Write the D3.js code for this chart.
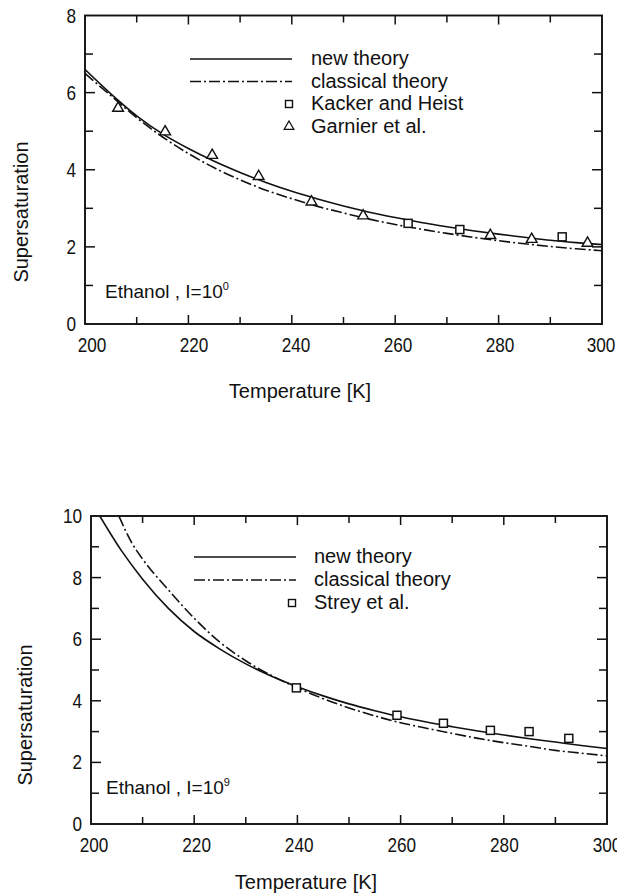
<!DOCTYPE html>
<html><head><meta charset="utf-8">
<script src="https://cdn.jsdelivr.net/npm/d3@7"></script>
<style>
html,body{margin:0;padding:0;background:#fff;}
svg text{font-family:"Liberation Sans Narrow","Liberation Sans",sans-serif;fill:#111;}
</style></head><body>
<svg id="chart" width="617" height="893"></svg>
<script>
// ---- Panel 1 data: Ethanol, I = 10^0 ----
const p1NewT = [200,205,210,215,220,225,230,235,240,245,250,255,260,265,270,275,280,285,290,295,300];
const p1NewS = [6.6,5.97,5.4,4.93,4.55,4.22,3.93,3.67,3.44,3.24,3.06,2.9,2.76,2.63,2.52,2.42,2.33,2.25,2.17,2.11,2.06];
const p1ClsT = [200,205,210,215,220,225,230,235,240,245,250,255,260,265,270,275,280,285,290,295,300];
const p1ClsS = [6.5,5.92,5.35,4.85,4.42,4.05,3.74,3.47,3.25,3.05,2.88,2.72,2.58,2.46,2.35,2.25,2.16,2.08,2.01,1.95,1.90];
const p1KackerT = [262.5,272.5,292.3];
const p1KackerS = [2.61,2.45,2.26];
const p1GarnierT = [206.4,215.5,224.6,233.6,243.8,253.8,278.4,286.4,297.2];
const p1GarnierS = [5.57,4.96,4.35,3.80,3.14,2.78,2.27,2.17,2.07];
const p1YTicks = [0,2,4,6,8];

// ---- Panel 2 data: Ethanol, I = 10^9 ----
const p2NewT = [201.7,206,210,215,220,225,230,235,240,245,250,255,260,265,270,275,280,285,290,295,300];
const p2NewS = [10,8.85,7.95,7.0,6.25,5.68,5.2,4.8,4.46,4.16,3.9,3.68,3.48,3.31,3.16,3.02,2.89,2.77,2.66,2.55,2.45];
const p2ClsT = [205.4,208,210,215,220,225,230,235,240,245,250,255,260,265,270,275,280,285,290,295,300];
const p2ClsS = [10,9.1,8.6,7.6,6.68,5.9,5.3,4.82,4.42,4.07,3.77,3.51,3.29,3.11,2.94,2.78,2.64,2.52,2.39,2.3,2.21];
const p2StreyT = [239.8,259.3,268.3,277.4,284.9,292.6];
const p2StreyS = [4.42,3.53,3.27,3.04,3.00,2.78];
const p2YTicks = [0,2,4,6,8,10];

const xTicks = [200,220,240,260,280,300];

const svg = d3.select("#chart");

function panel(cfg){
  const x = d3.scaleLinear().domain([200,300]).range([cfg.x0,cfg.x1]);
  const y = d3.scaleLinear().domain([0,cfg.ymax]).range([cfg.y0,cfg.y1]);
  const g = svg.append("g");
  const clipId = "clip"+cfg.id;
  svg.append("clipPath").attr("id",clipId).append("rect")
    .attr("x",cfg.x0).attr("y",cfg.y1).attr("width",cfg.x1-cfg.x0).attr("height",cfg.y0-cfg.y1);

  // frame
  g.append("rect").attr("x",cfg.x0).attr("y",cfg.y1).attr("width",cfg.x1-cfg.x0).attr("height",cfg.y0-cfg.y1)
    .attr("fill","none").attr("stroke","#111").attr("stroke-width",1.9);

  // ticks, inward, on all sides
  const tk = g.append("g").attr("stroke","#111").attr("stroke-width",1.5);
  d3.range(210,300,10).forEach(t=>{
    const L = (t%20===0)?9:7;
    tk.append("line").attr("x1",x(t)).attr("x2",x(t)).attr("y1",cfg.y0).attr("y2",cfg.y0-L);
    tk.append("line").attr("x1",x(t)).attr("x2",x(t)).attr("y1",cfg.y1).attr("y2",cfg.y1+L);
  });
  d3.range(1,cfg.ymax,1).forEach(v=>{
    const L = (v%2===0)?10:8;
    tk.append("line").attr("x1",cfg.x0).attr("x2",cfg.x0+L).attr("y1",y(v)).attr("y2",y(v));
    tk.append("line").attr("x1",cfg.x1).attr("x2",cfg.x1-L).attr("y1",y(v)).attr("y2",y(v));
  });

  // tick labels (condensed digits as in the plotter font)
  g.selectAll(".yl").data(cfg.yTicks).enter().append("text")
    .attr("transform",d=>`translate(${cfg.x0-9},${y(d)+7}) scale(0.86,1)`).attr("text-anchor","end")
    .attr("font-size",20).text(d=>d);
  g.selectAll(".xl").data(xTicks).enter().append("text")
    .attr("transform",d=>`translate(${x(d)+cfg.xlabDx*(300-d)/100 - cfg.lastShift*(d===300?1:0)},${cfg.y0+28}) scale(0.86,1)`)
    .attr("text-anchor","middle")
    .attr("font-size",20).text(d=>d);

  // axis titles
  g.append("text").attr("x",cfg.xTitleX).attr("y",cfg.xTitleY).attr("text-anchor","middle")
    .attr("font-size",20).text("Temperature [K]");
  g.append("text").attr("transform",`translate(${cfg.yTitleX},${cfg.yTitleY}) rotate(-90)`)
    .attr("text-anchor","middle").attr("font-size",20).text("Supersaturation");

  // curves
  const line = d3.line().x(d=>x(d[0])).y(d=>y(d[1])).curve(d3.curveMonotoneX);
  const cg = g.append("g").attr("clip-path",`url(#${clipId})`);
  cg.append("path").datum(d3.zip(cfg.newT,cfg.newS)).attr("d",line)
    .attr("fill","none").attr("stroke","#111").attr("stroke-width",1.6);
  cg.append("path").datum(d3.zip(cfg.clsT,cfg.clsS)).attr("d",line)
    .attr("fill","none").attr("stroke","#111").attr("stroke-width",1.6).attr("stroke-dasharray","11,3,2,3");

  // markers
  cfg.squares.forEach(s=>{
    g.selectAll(null).data(d3.zip(s.T,s.S)).enter().append("rect")
      .attr("x",d=>x(d[0])-4).attr("y",d=>y(d[1])-4).attr("width",8).attr("height",8)
      .attr("fill","#fff").attr("stroke","#111").attr("stroke-width",1.5);
  });
  cfg.triangles.forEach(s=>{
    const sym = d3.symbol().type(d3.symbolTriangle).size(50);
    g.selectAll(null).data(d3.zip(s.T,s.S)).enter().append("path")
      .attr("d",sym).attr("transform",d=>`translate(${x(d[0])},${y(d[1])-1})`)
      .attr("fill","#fff").attr("stroke","#111").attr("stroke-width",1.4);
  });

  // legend
  const lg = g.append("g");
  cfg.legend.forEach((e,i)=>{
    const ly = cfg.legY + i*cfg.legDy;
    if(e.type==="solid"||e.type==="dash"){
      lg.append("line").attr("x1",cfg.legX0).attr("x2",cfg.legX1).attr("y1",ly).attr("y2",ly)
        .attr("stroke","#111").attr("stroke-width",1.6)
        .attr("stroke-dasharray",e.type==="dash"?"11,3,2,3":null);
    } else if(e.type==="square"){
      lg.append("rect").attr("x",cfg.legMark-3.5).attr("y",ly-3.5).attr("width",7).attr("height",7)
        .attr("fill","#fff").attr("stroke","#111").attr("stroke-width",1.4);
    } else {
      lg.append("path").attr("d",d3.symbol().type(d3.symbolTriangle).size(40))
        .attr("transform",`translate(${cfg.legMark},${ly})`)
        .attr("fill","#fff").attr("stroke","#111").attr("stroke-width",1.3);
    }
    lg.append("text").attr("x",cfg.legText).attr("y",ly+6).attr("font-size",20).text(e.label);
  });

  // annotation
  const an = g.append("text").attr("x",cfg.annX).attr("y",cfg.annY).attr("font-size",19);
  an.append("tspan").text("Ethanol , I=10");
  an.append("tspan").attr("dy",-8).attr("font-size",11).text(cfg.exp);
}

panel({id:1,x0:85,x1:602,y0:324,y1:15.5,ymax:8,yTicks:p1YTicks,xlabDx:7,lastShift:1,
  newT:p1NewT,newS:p1NewS,clsT:p1ClsT,clsS:p1ClsS,
  squares:[{T:p1KackerT,S:p1KackerS}],triangles:[{T:p1GarnierT,S:p1GarnierS}],
  legend:[{type:"solid",label:"new theory"},{type:"dash",label:"classical theory"},
          {type:"square",label:"Kacker and Heist"},{type:"tri",label:"Garnier et al."}],
  legX0:190,legX1:292,legMark:289,legText:311,legY:59,legDy:22.5,
  annX:105,annY:298,exp:"0",
  xTitleX:300,xTitleY:398,yTitleX:28,yTitleY:212});

panel({id:2,x0:91,x1:607,y0:824,y1:516,ymax:10,yTicks:p2YTicks,xlabDx:3,lastShift:0,
  newT:p2NewT,newS:p2NewS,clsT:p2ClsT,clsS:p2ClsS,
  squares:[{T:p2StreyT,S:p2StreyS}],triangles:[],
  legend:[{type:"solid",label:"new theory"},{type:"dash",label:"classical theory"},
          {type:"square",label:"Strey et al."}],
  legX0:194,legX1:296,legMark:292,legText:314,legY:557,legDy:23,
  annX:106,annY:794,exp:"9",
  xTitleX:306,xTitleY:889,yTitleX:32,yTitleY:715});
</script>
</body></html>
